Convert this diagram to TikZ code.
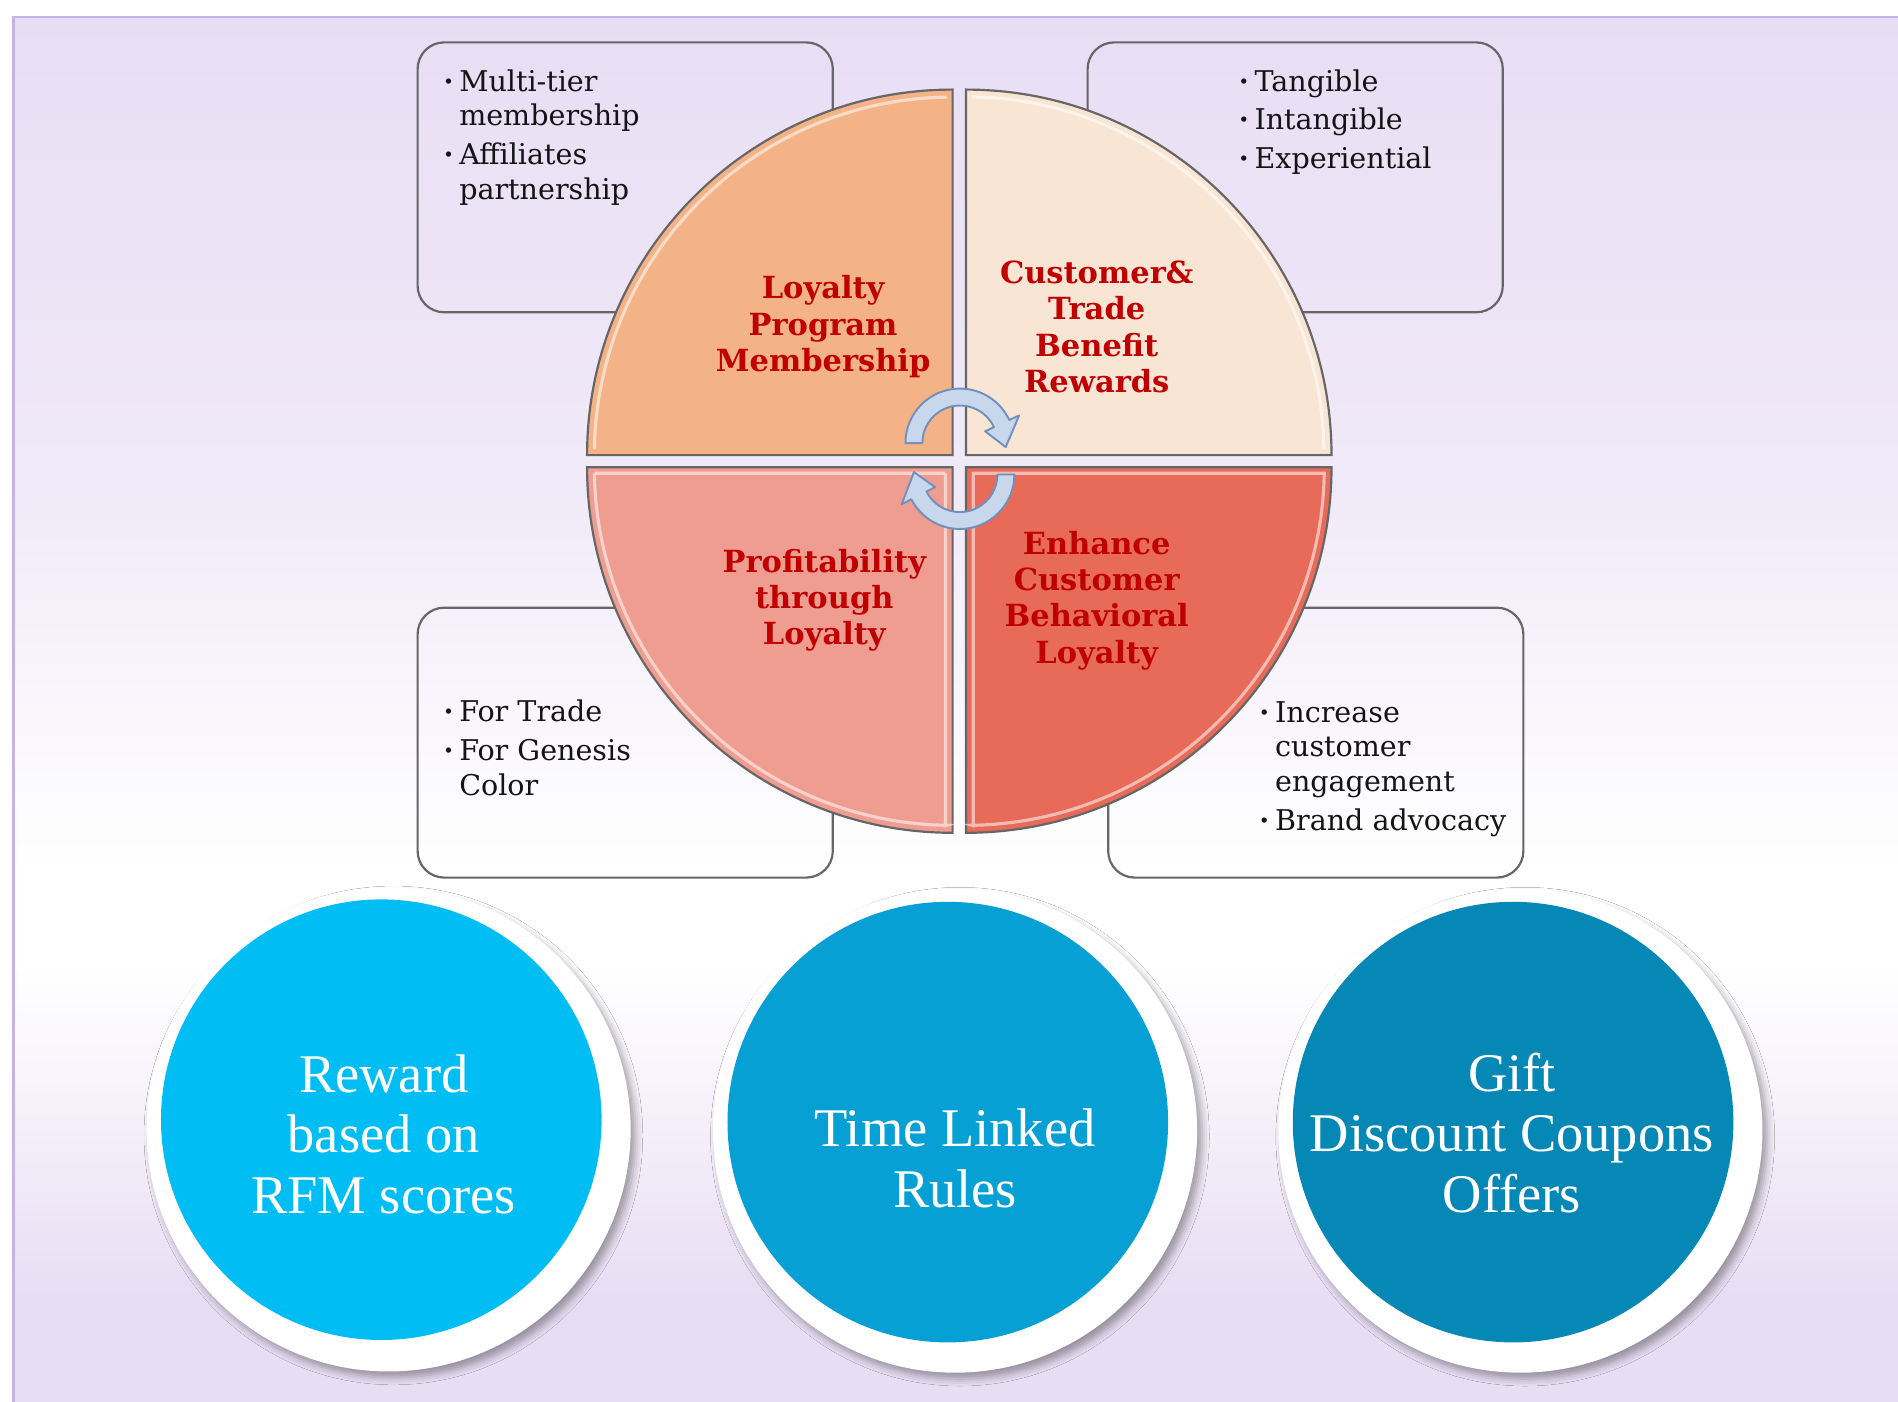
\documentclass[tikz,border=0pt]{standalone}
\usepackage{fontspec}
\setmainfont{DejaVu Serif}
\newfontfamily\circfont{Liberation Serif}
\usetikzlibrary{shadows.blur}
\definecolor{lav}{HTML}{E8DEF4}
\definecolor{frameline}{HTML}{C6B2E8}
\definecolor{qTL}{HTML}{F3B386}
\definecolor{qTR}{HTML}{F9E5D4}
\definecolor{qBL}{HTML}{EF9D91}
\definecolor{qBR}{HTML}{E86A58}
\definecolor{qred}{HTML}{C00000}
\definecolor{qline}{HTML}{666666}
\definecolor{arrfill}{HTML}{C9D7EC}
\definecolor{arrline}{HTML}{7290BC}
\definecolor{cA}{HTML}{00BEF3}
\definecolor{cB}{HTML}{07A0D5}
\definecolor{cC}{HTML}{0588B6}
\newcommand\bul{\makebox[6.5pt][l]{\textbf{·}}}
\newcommand\ind{\hspace*{6.5pt}}
\begin{document}
\begin{tikzpicture}[x=0.5pt,y=-0.5pt,
  infobox/.style={draw=qline, line width=0.9pt, rounded corners=11pt, minimum width=171.5pt, minimum height=111.5pt, inner sep=0pt},
  quad/.style={draw=qline, line width=0.9pt},
  bevel/.style={draw=white, line width=1.3pt, opacity=0.55},
  quadtext/.style={text=qred, align=center, inner sep=0pt, font=\fontsize{12.6}{15}\selectfont\bfseries},
  listtext/.style={text=black!92, align=left, inner sep=0pt, anchor=north west, font=\fontsize{11.8}{14.3}\selectfont},
  carrow/.style={fill=arrfill, draw=arrline, line width=0.8pt, line join=round},
  framedisc/.style={circle, fill=white, minimum size=200pt, inner sep=0pt,
     blur shadow={shadow xshift=2pt, shadow yshift=-2.5pt, shadow blur radius=3pt, shadow opacity=35}},
  bluedisc/.style={circle, minimum size=182pt, inner sep=0pt},
  circtext/.style={text=white, align=center, inner sep=0pt, font=\circfont\fontsize{22.5}{25}\selectfont}
]
\useasboundingbox (0,0) rectangle (1568,1158);
% background
\fill[white] (0,0) rectangle (1568,1158);
\shade[top color=lav, bottom color=lav!65!white] (11,14) rectangle (1568,400);
\shade[top color=lav!65!white, bottom color=white] (11,400) rectangle (1568,720);
\fill[white] (11,720) rectangle (1568,800);
\shade[top color=white, bottom color=lav] (11,800) rectangle (1568,1070);
\fill[lav] (11,1070) rectangle (1568,1158);
\draw[frameline, line width=1.2pt] (11,1158) -- (11,14) -- (1568,14);

% info boxes
\node[infobox] (bTL) at (516.5,146.5) {};
\node[infobox] (bTR) at (1070,146.5) {};
\node[infobox] (bBL) at (516.5,613.5) {};
\node[infobox] (bBR) at (1087,613.5) {};

% quadrants
\filldraw[quad, fill=qTL] (787,376) -- (485,376) arc[start angle=180, end angle=270, radius=302] -- cycle;
\filldraw[quad, fill=qTR] (798,376) -- (798,74) arc[start angle=270, end angle=360, radius=302] -- cycle;
\filldraw[quad, fill=qBL] (787,386) -- (485,386) arc[start angle=180, end angle=90, radius=302] -- cycle;
\filldraw[quad, fill=qBR] (798,386) -- (1100,386) arc[start angle=0, end angle=90, radius=302] -- cycle;
% bevel highlights
\draw[bevel] (491,371) arc[start angle=181, end angle=269, radius=296] -- (782,80);
\draw[bevel] (803,80) arc[start angle=271, end angle=359, radius=296];
\draw[bevel] (491,391) -- (781,391) (491,391) arc[start angle=179, end angle=91, radius=296] -- (781,682) -- (781,391);
\draw[bevel] (804,391) -- (1094,391) arc[start angle=1, end angle=89, radius=296] -- (804,682) -- cycle;

% circular arrows
\begin{scope}[shift={(793,366)}]
\filldraw[carrow] (180:45) arc[start angle=180, end angle=335, radius=45] -- (335:54) -- (5:38) -- (335:23) -- (335:31) arc[start angle=335, end angle=180, radius=31] -- cycle;
\end{scope}
\begin{scope}[shift={(793,392)}]
\filldraw[carrow] (0:45) arc[start angle=0, end angle=153, radius=45] -- (153:54) -- (183:38) -- (153:23) -- (153:31) arc[start angle=153, end angle=0, radius=31] -- cycle;
\end{scope}

% quadrant texts
\node[quadtext] (tTL) at (680,270) {Loyalty\\Program\\Membership};
\node[quadtext] (tTR) at (906,270) {Customer\&\\Trade\\Benefit\\Rewards};
\node[quadtext] (tBL) at (681,496) {Profitability\\through\\Loyalty};
\node[quadtext] (tBR) at (906,496) {Enhance\\Customer\\Behavioral\\Loyalty};

% list texts
\node[listtext] (lTL) at (366,57) {\bul Multi-tier\\ \ind membership\\[1.7pt] \bul Affiliates\\ \ind partnership};
\node[listtext] (lTR) at (1023,57) {\bul Tangible\\[1.7pt] \bul Intangible\\[1.7pt] \bul Experiential};
\node[listtext] (lBL) at (366,578) {\bul For Trade\\[1.7pt] \bul For Genesis\\ \ind Color};
\node[listtext] (lBR) at (1040,579) {\bul Increase\\ \ind customer\\ \ind engagement\\[1.7pt] \bul Brand advocacy};

% bottom circles
\node[framedisc] (fA) at (321,933) {};
\node[framedisc] (fB) at (789,934) {};
\node[framedisc] (fC) at (1256,934) {};
\node[bluedisc, fill=cA] (cA) at (315,925) {};
\node[bluedisc, fill=cB] (cB) at (783,927) {};
\node[bluedisc, fill=cC] (cC) at (1250,927) {};
\node[circtext] (xA) at (317,937) {Reward\\based on\\RFM scores};
\node[circtext] (xB) at (789,957) {Time Linked\\Rules};
\node[circtext] (xC) at (1249,936) {Gift\\Discount Coupons\\Offers};
\end{tikzpicture}
\end{document}
